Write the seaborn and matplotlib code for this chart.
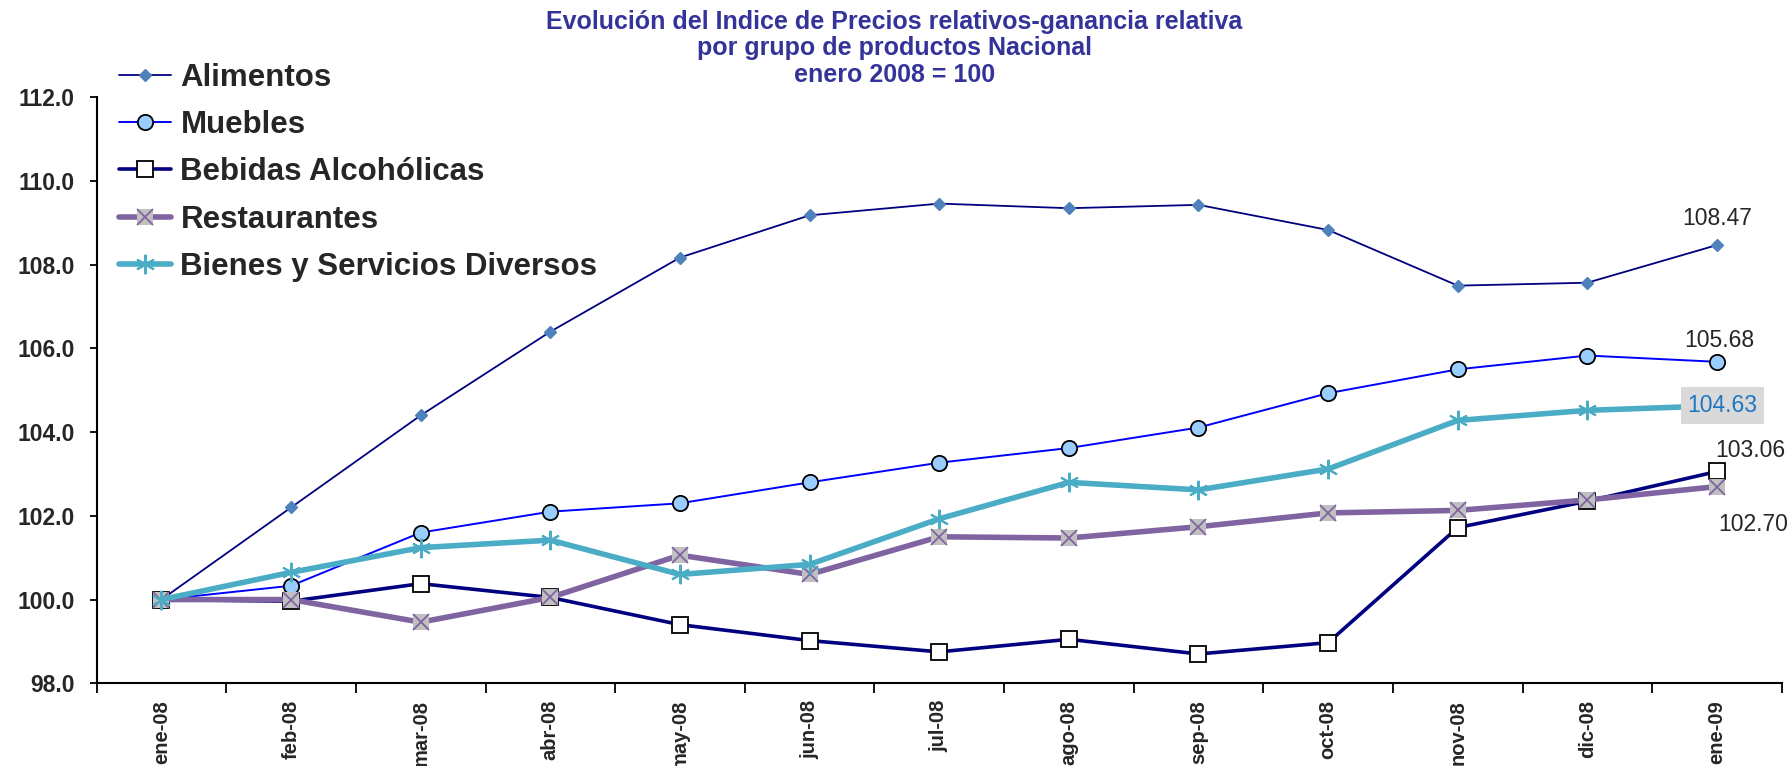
import numpy as np
import pandas as pd
import matplotlib
matplotlib.use('Agg')
import matplotlib.pyplot as plt
import seaborn as sns
from matplotlib.lines import Line2D
from matplotlib.legend_handler import HandlerTuple

# ---------------- data ----------------
meses = ['ene-08', 'feb-08', 'mar-08', 'abr-08', 'may-08', 'jun-08', 'jul-08',
         'ago-08', 'sep-08', 'oct-08', 'nov-08', 'dic-08', 'ene-09']
alimentos = [100.0, 102.2, 104.4, 106.4, 108.17, 109.18, 109.46, 109.35, 109.43,
             108.83, 107.5, 107.57, 108.47]
muebles = [100.0, 100.33, 101.6, 102.1, 102.3, 102.8, 103.27, 103.62, 104.11,
           104.93, 105.5, 105.83, 105.68]
bebidas = [100.0, 99.96, 100.38, 100.05, 99.4, 99.02, 98.75, 99.05, 98.7,
           98.97, 101.72, 102.35, 103.06]
restaurantes = [100.0, 100.0, 99.46, 100.05, 101.06, 100.6, 101.5, 101.47, 101.74,
                102.07, 102.13, 102.38, 102.70]
bienes = [100.0, 100.65, 101.24, 101.42, 100.6, 100.84, 101.93, 102.8, 102.62,
          103.12, 104.28, 104.52, 104.63]

series_names = ['Alimentos', 'Muebles', 'Bebidas Alcohólicas', 'Restaurantes',
                'Bienes y Servicios Diversos']
series_vals = [alimentos, muebles, bebidas, restaurantes, bienes]

y_ticks = [98, 100, 102, 104, 106, 108, 110, 112]

titulo = ('Evolución del Indice de Precios relativos-ganancia relativa\n'
          'por grupo de productos Nacional\nenero 2008 = 100')

rows = []
for name, vals in zip(series_names, series_vals):
    for i, (m, v) in enumerate(zip(meses, vals)):
        rows.append({'serie': name, 'mes': m, 'pos': i, 'valor': v})
df = pd.DataFrame(rows)

# ---------------- style ----------------
sns.set_style('white')
plt.rcParams['font.family'] = ['Liberation Sans', 'DejaVu Sans']

fig = plt.figure(figsize=(17.89, 7.66), dpi=100)
ax = fig.add_axes([0.054, 0.108, 0.942, 0.765])

styles = {
    'Alimentos': dict(color='#000080', lw=1.3, marker='D', ms=6,
                      mfc='#4f81bd', mec='#4f81bd'),
    'Muebles': dict(color='#0000ff', lw=1.4, marker='o', ms=11,
                    mfc='#99ccff', mec='black', mew=1.3),
    'Bebidas Alcohólicas': dict(color='#000080', lw=2.6, marker='s', ms=12,
                                mfc='white', mec='black', mew=1.3),
    'Restaurantes': dict(color='#8064a2', lw=4.0, marker='s', ms=12,
                         mfc='#c0c0c0', mec='#c0c0c0', mew=0),
    'Bienes y Servicios Diversos': dict(color='#4bacc6', lw=4.0, marker=(6, 2, 0),
                                        ms=14, mfc='#4bacc6', mec='#4bacc6', mew=1.5),
}

zord = {'Alimentos': 3, 'Muebles': 4, 'Bebidas Alcohólicas': 5,
        'Restaurantes': 6, 'Bienes y Servicios Diversos': 7}

for name in series_names:
    st = styles[name]
    sub = df[df['serie'] == name]
    sns.lineplot(data=sub, x='pos', y='valor', ax=ax, color=st['color'],
                 linewidth=st['lw'], marker=st['marker'], markersize=st['ms'],
                 markerfacecolor=st['mfc'], markeredgecolor=st['mec'],
                 markeredgewidth=st.get('mew', 1.0), zorder=zord[name],
                 legend=False, errorbar=None)

# purple x over grey squares for Restaurantes
sub = df[df['serie'] == 'Restaurantes']
ax.plot(sub['pos'], sub['valor'], linestyle='none', marker='x', ms=11,
        mec='#8064a2', mew=1.3, zorder=6.5)

# ---------------- axes ----------------
n = len(meses)
ax.set_xlim(-0.5, n - 0.5)
ax.set_ylim(y_ticks[0], y_ticks[-1])
ax.set_xticks(np.arange(-0.5, n, 1.0))
ax.set_xticklabels([])
ax.set_xticks(np.arange(n), labels=meses, minor=True)
ax.tick_params(axis='x', which='major', length=7, width=1.3, direction='out',
               color='black', bottom=True)
ax.tick_params(axis='x', which='minor', length=0, pad=12)
for lab in ax.get_xticklabels(minor=True):
    lab.set_rotation(90)
    lab.set_fontweight('bold')
    lab.set_fontsize(14.5)
    lab.set_va('top')

ax.set_yticks(y_ticks)
ax.set_yticklabels([f'{v:.1f}' for v in y_ticks], fontweight='bold', fontsize=16.5)
ax.tick_params(axis='y', length=5, width=1.3, direction='out', color='black',
               left=True, pad=11)
ax.set_xlabel('')
ax.set_ylabel('')
for side in ['top', 'right']:
    ax.spines[side].set_visible(False)
for side in ['left', 'bottom']:
    ax.spines[side].set_color('black')
    ax.spines[side].set_linewidth(1.5)

# ---------------- data labels ----------------
last = n - 1
lab_fs = 16.5
ax.annotate(f'{alimentos[-1]:.2f}', (last, alimentos[-1]), xytext=(0, 19),
            textcoords='offset points', ha='center', va='center', fontsize=lab_fs, zorder=10)
ax.annotate(f'{muebles[-1]:.2f}', (last, muebles[-1]), xytext=(2, 15),
            textcoords='offset points', ha='center', va='center', fontsize=lab_fs, zorder=10)
ax.annotate(f'{bienes[-1]:.2f}', (last, bienes[-1]), xytext=(4, 0),
            textcoords='offset points', ha='center', va='center', fontsize=lab_fs,
            color='#1f77c4', zorder=10,
            bbox=dict(boxstyle='square,pad=0.3', fc='#d9d9d9', ec='none'))
ax.annotate(f'{bebidas[-1]:.2f}', (last, bebidas[-1]), xytext=(24, 15),
            textcoords='offset points', ha='center', va='center', fontsize=lab_fs, zorder=10)
ax.annotate(f'{restaurantes[-1]:.2f}', (last, restaurantes[-1]), xytext=(26, -27),
            textcoords='offset points', ha='center', va='center', fontsize=lab_fs, zorder=10)

# ---------------- legend ----------------
handles = []
for name in series_names:
    st = styles[name]
    h = Line2D([], [], color=st['color'], lw=st['lw'], marker=st['marker'],
               ms=st['ms'], mfc=st['mfc'], mec=st['mec'], mew=st.get('mew', 1.0))
    if name == 'Restaurantes':
        hx = Line2D([], [], linestyle='none', marker='x', ms=11, mec='#8064a2', mew=1.3)
        h = (h, hx)
    handles.append(h)
leg = fig.legend(handles, series_names, loc='upper left',
                 bbox_to_anchor=(0.0598, 0.934), frameon=False, numpoints=1,
                 prop={'weight': 'bold', 'size': 22.5}, labelspacing=0.55,
                 handlelength=1.65, handletextpad=0.3, borderaxespad=0,
                 handler_map={tuple: HandlerTuple(ndivide=1)})
leg.set_zorder(20)

# ---------------- title ----------------
fig.text(0.5, 0.987, titulo, ha='center', va='top', fontsize=18,
         fontweight='bold', color='#333399', linespacing=1.12)

fig.savefig('out.png', dpi=100, facecolor='white')
